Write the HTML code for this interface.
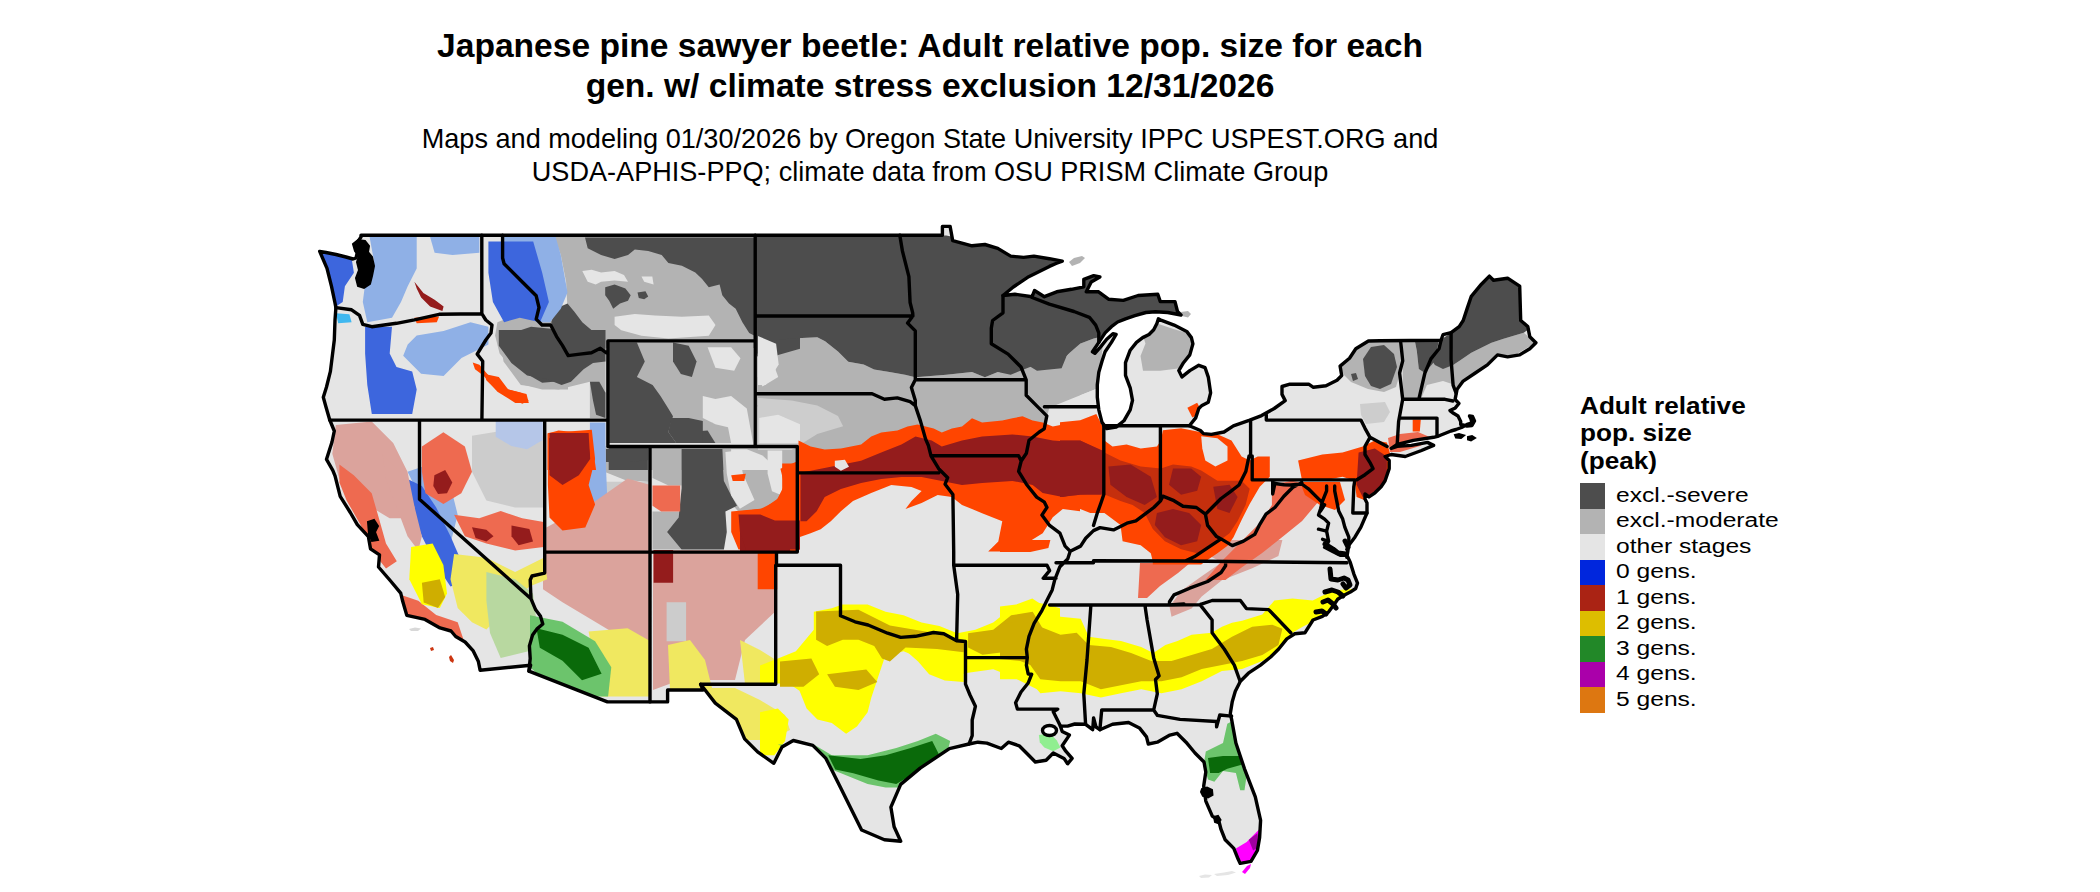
<!DOCTYPE html>
<html><head><meta charset="utf-8"><style>
html,body{margin:0;padding:0;background:#fff;}
body{width:2100px;height:892px;position:relative;overflow:hidden;font-family:"Liberation Sans",sans-serif;color:#000;}
.t{position:absolute;left:0;width:1860px;text-align:center;white-space:nowrap;}
.t1{font-weight:bold;font-size:33.6px;line-height:40px;top:26.3px;}
.t2{font-size:27.1px;line-height:33px;top:121.9px;}
#map{position:absolute;left:0;top:0;}
.lh{position:absolute;left:1580px;top:391.9px;font-weight:bold;font-size:24px;line-height:27.4px;transform:scaleX(1.09);transform-origin:0 0;}
.sw{position:absolute;left:1580px;width:25px;height:25.6px;}
.lt{position:absolute;left:1616px;font-size:20px;line-height:25.53px;transform:scaleX(1.23);transform-origin:0 0;white-space:nowrap;}
</style></head><body>
<div class="t t1">Japanese pine sawyer beetle: Adult relative pop. size for each<br>gen. w/ climate stress exclusion 12/31/2026</div>
<div class="t t2">Maps and modeling 01/30/2026 by Oregon State University IPPC USPEST.ORG and<br>USDA-APHIS-PPQ; climate data from OSU PRISM Climate Group</div>
<svg id="map" width="2100" height="892" viewBox="0 0 2100 892"><defs><clipPath id="us"><path d="M319.7,251.4 L326.0,252.5 L336.0,254.5 L346.0,257.0 L353.0,259.0 L356.0,258.0 L358.0,250.0 L357.0,243.0 L361.0,237.0 L361.0,235.2 L942.4,235.2 L942.4,226.4 L950.1,226.4 L952.7,240.6 L972.0,245.8 L984.9,244.5 L997.8,248.4 L1010.7,256.1 L1023.6,257.4 L1033.9,256.1 L1049.4,258.7 L1062.3,261.2 L1056.0,263.5 L1049.4,266.4 L1028.7,276.7 L1013.3,287.0 L1003.0,295.5 L1008.0,295.0 L1014.8,294.2 L1032.1,296.7 L1034.5,290.5 L1044.4,296.7 L1056.7,291.8 L1071.5,289.3 L1083.8,286.8 L1083.8,279.4 L1093.7,275.7 L1099.9,277.0 L1091.2,281.9 L1086.3,291.8 L1098.6,291.8 L1108.5,299.2 L1123.3,300.4 L1138.1,295.5 L1157.8,294.2 L1160.3,301.6 L1175.0,301.6 L1177.5,311.5 L1181.0,315.0 L1167.8,312.5 L1155.3,311.8 L1145.9,312.5 L1134.9,315.7 L1125.5,318.8 L1117.6,322.0 L1111.4,326.7 L1105.1,332.9 L1098.8,342.4 L1092.5,351.8 L1094.9,353.3 L1100.4,347.1 L1106.7,339.2 L1112.9,333.7 L1116.1,334.5 L1111.4,342.4 L1105.1,351.8 L1102.0,361.2 L1098.8,372.2 L1097.3,384.7 L1097.3,397.3 L1098.8,409.8 L1102.0,422.4 L1106.7,428.6 L1116.1,427.1 L1123.9,420.8 L1130.2,409.8 L1132.5,400.4 L1130.2,387.8 L1125.5,375.3 L1125.5,362.7 L1130.2,350.2 L1136.5,342.4 L1142.7,337.6 L1149.0,334.5 L1153.7,329.8 L1156.9,323.5 L1158.4,318.8 L1161.6,320.4 L1174.1,325.1 L1186.7,331.4 L1191.4,337.6 L1192.9,343.9 L1189.8,354.9 L1183.5,362.7 L1178.8,370.6 L1182.0,376.9 L1189.8,370.6 L1198.8,365.3 L1205.1,367.7 L1208.3,377.1 L1210.6,392.8 L1208.3,402.2 L1202.0,405.4 L1198.8,408.5 L1195.7,417.9 L1189.4,425.8 L1200.4,430.5 L1203.5,433.6 L1211.4,434.4 L1224.0,432.0 L1233.4,425.8 L1249.1,420.3 L1261.6,415.6 L1274.2,408.5 L1285.2,400.6 L1282.0,394.4 L1282.0,386.5 L1289.9,384.2 L1308.7,384.2 L1313.4,387.3 L1326.0,385.7 L1337.0,380.2 L1341.7,375.5 L1340.1,366.1 L1349.5,358.3 L1355.8,348.8 L1368.4,341.0 L1380.0,340.8 L1441.0,340.3 L1443.0,334.7 L1451.1,332.7 L1459.2,326.6 L1463.2,320.5 L1467.2,308.4 L1471.3,296.3 L1481.4,284.2 L1489.4,276.1 L1493.5,280.2 L1507.6,278.2 L1519.7,286.2 L1520.7,320.5 L1527.8,326.6 L1529.8,336.7 L1535.9,342.7 L1529.8,348.8 L1519.7,354.9 L1507.6,356.9 L1497.5,354.9 L1487.4,364.9 L1475.3,373.0 L1463.2,381.1 L1457.1,389.2 L1455.1,399.3 L1458.9,403.5 L1455.3,407.9 L1450.0,410.6 L1453.5,413.3 L1458.0,416.0 L1460.7,421.4 L1460.7,424.5 L1467.0,426.0 L1472.0,425.5 L1474.5,421.0 L1472.5,416.5 L1469.5,416.0 L1471.0,419.0 L1472.0,423.0 L1467.0,424.4 L1461.5,427.5 L1456.0,429.5 L1450.9,431.0 L1446.0,433.0 L1441.0,435.0 L1437.6,436.3 L1433.6,437.3 L1413.4,440.4 L1397.2,444.4 L1391.2,448.4 L1397.2,446.4 L1411.4,445.4 L1427.5,442.4 L1433.6,445.4 L1421.5,450.5 L1405.3,456.5 L1391.2,454.5 L1385.1,456.5 L1389.2,460.5 L1389.2,468.6 L1385.1,480.7 L1381.1,486.8 L1375.0,492.8 L1369.0,496.9 L1365.0,494.0 L1365.0,498.9 L1367.0,502.9 L1367.0,513.0 L1360.9,527.1 L1354.9,537.2 L1348.8,545.3 L1346.8,557.4 L1347.3,556.0 L1350.3,562.4 L1353.9,574.1 L1357.5,583.1 L1355.7,588.5 L1350.3,592.1 L1343.1,595.7 L1337.7,599.2 L1334.1,604.6 L1328.7,611.8 L1322.4,616.3 L1313.0,620.0 L1304.9,632.8 L1294.8,633.8 L1286.8,638.9 L1278.7,649.0 L1270.6,657.0 L1260.5,665.1 L1248.4,673.2 L1240.4,681.2 L1235.3,691.3 L1232.3,701.4 L1230.3,713.5 L1231.6,719.4 L1235.9,743.0 L1244.5,768.8 L1255.3,796.8 L1260.6,820.4 L1259.6,837.6 L1257.4,850.5 L1251.0,861.3 L1240.2,863.4 L1238.1,859.1 L1233.8,848.4 L1225.2,839.8 L1220.9,829.0 L1218.7,820.4 L1212.3,816.1 L1205.8,801.1 L1203.7,786.0 L1205.8,772.0 L1204.0,762.0 L1195.0,753.0 L1186.0,742.2 L1177.0,733.3 L1169.9,735.1 L1157.3,742.2 L1148.3,744.0 L1146.5,736.9 L1139.4,727.9 L1128.6,722.5 L1112.5,724.3 L1099.9,729.7 L1096.0,727.0 L1093.6,718.0 L1092.7,729.7 L1085.6,724.3 L1074.8,724.0 L1067.6,726.1 L1060.4,726.1 L1062.2,731.5 L1069.4,735.1 L1062.2,745.8 L1065.8,751.2 L1072.1,758.4 L1067.6,763.8 L1064.0,758.4 L1053.3,753.0 L1046.1,760.2 L1035.3,762.0 L1028.2,754.8 L1019.2,745.8 L1008.4,742.2 L1001.3,748.5 L986.9,743.1 L977.9,742.2 L969.0,744.0 L949.4,748.6 L920.2,768.1 L900.7,784.4 L890.9,807.2 L894.1,826.7 L900.7,841.3 L884.4,839.7 L861.6,830.0 L851.9,810.4 L840.5,787.6 L825.9,758.4 L812.8,745.4 L793.3,740.5 L782.0,747.0 L773.8,763.3 L757.6,751.9 L744.6,738.9 L736.4,719.3 L715.3,703.1 L700.6,684.3 L703.1,690.0 L667.6,690.0 L667.6,701.9 L607.4,701.9 L528.9,671.2 L530.6,665.2 L480.1,670.2 L478.4,661.6 L473.0,650.6 L465.1,642.0 L455.7,636.5 L451.0,631.0 L440.0,627.9 L425.0,619.4 L406.8,615.4 L402.7,601.3 L400.7,593.2 L390.6,581.0 L378.5,567.0 L379.5,554.9 L370.5,548.8 L368.4,536.7 L357.3,524.6 L350.3,512.5 L340.2,496.3 L335.1,476.1 L332.8,470.3 L326.5,459.3 L332.0,442.0 L334.3,431.0 L329.6,419.5 L325.7,406.0 L323.3,397.3 L326.5,387.0 L330.4,371.4 L334.3,340.0 L335.0,320.0 L335.9,307.6 L334.8,302.0 L331.5,286.3 L327.0,268.4Z"/></clipPath></defs><path d="M319.7,251.4 L326.0,252.5 L336.0,254.5 L346.0,257.0 L353.0,259.0 L356.0,258.0 L358.0,250.0 L357.0,243.0 L361.0,237.0 L361.0,235.2 L942.4,235.2 L942.4,226.4 L950.1,226.4 L952.7,240.6 L972.0,245.8 L984.9,244.5 L997.8,248.4 L1010.7,256.1 L1023.6,257.4 L1033.9,256.1 L1049.4,258.7 L1062.3,261.2 L1056.0,263.5 L1049.4,266.4 L1028.7,276.7 L1013.3,287.0 L1003.0,295.5 L1008.0,295.0 L1014.8,294.2 L1032.1,296.7 L1034.5,290.5 L1044.4,296.7 L1056.7,291.8 L1071.5,289.3 L1083.8,286.8 L1083.8,279.4 L1093.7,275.7 L1099.9,277.0 L1091.2,281.9 L1086.3,291.8 L1098.6,291.8 L1108.5,299.2 L1123.3,300.4 L1138.1,295.5 L1157.8,294.2 L1160.3,301.6 L1175.0,301.6 L1177.5,311.5 L1181.0,315.0 L1167.8,312.5 L1155.3,311.8 L1145.9,312.5 L1134.9,315.7 L1125.5,318.8 L1117.6,322.0 L1111.4,326.7 L1105.1,332.9 L1098.8,342.4 L1092.5,351.8 L1094.9,353.3 L1100.4,347.1 L1106.7,339.2 L1112.9,333.7 L1116.1,334.5 L1111.4,342.4 L1105.1,351.8 L1102.0,361.2 L1098.8,372.2 L1097.3,384.7 L1097.3,397.3 L1098.8,409.8 L1102.0,422.4 L1106.7,428.6 L1116.1,427.1 L1123.9,420.8 L1130.2,409.8 L1132.5,400.4 L1130.2,387.8 L1125.5,375.3 L1125.5,362.7 L1130.2,350.2 L1136.5,342.4 L1142.7,337.6 L1149.0,334.5 L1153.7,329.8 L1156.9,323.5 L1158.4,318.8 L1161.6,320.4 L1174.1,325.1 L1186.7,331.4 L1191.4,337.6 L1192.9,343.9 L1189.8,354.9 L1183.5,362.7 L1178.8,370.6 L1182.0,376.9 L1189.8,370.6 L1198.8,365.3 L1205.1,367.7 L1208.3,377.1 L1210.6,392.8 L1208.3,402.2 L1202.0,405.4 L1198.8,408.5 L1195.7,417.9 L1189.4,425.8 L1200.4,430.5 L1203.5,433.6 L1211.4,434.4 L1224.0,432.0 L1233.4,425.8 L1249.1,420.3 L1261.6,415.6 L1274.2,408.5 L1285.2,400.6 L1282.0,394.4 L1282.0,386.5 L1289.9,384.2 L1308.7,384.2 L1313.4,387.3 L1326.0,385.7 L1337.0,380.2 L1341.7,375.5 L1340.1,366.1 L1349.5,358.3 L1355.8,348.8 L1368.4,341.0 L1380.0,340.8 L1441.0,340.3 L1443.0,334.7 L1451.1,332.7 L1459.2,326.6 L1463.2,320.5 L1467.2,308.4 L1471.3,296.3 L1481.4,284.2 L1489.4,276.1 L1493.5,280.2 L1507.6,278.2 L1519.7,286.2 L1520.7,320.5 L1527.8,326.6 L1529.8,336.7 L1535.9,342.7 L1529.8,348.8 L1519.7,354.9 L1507.6,356.9 L1497.5,354.9 L1487.4,364.9 L1475.3,373.0 L1463.2,381.1 L1457.1,389.2 L1455.1,399.3 L1458.9,403.5 L1455.3,407.9 L1450.0,410.6 L1453.5,413.3 L1458.0,416.0 L1460.7,421.4 L1460.7,424.5 L1467.0,426.0 L1472.0,425.5 L1474.5,421.0 L1472.5,416.5 L1469.5,416.0 L1471.0,419.0 L1472.0,423.0 L1467.0,424.4 L1461.5,427.5 L1456.0,429.5 L1450.9,431.0 L1446.0,433.0 L1441.0,435.0 L1437.6,436.3 L1433.6,437.3 L1413.4,440.4 L1397.2,444.4 L1391.2,448.4 L1397.2,446.4 L1411.4,445.4 L1427.5,442.4 L1433.6,445.4 L1421.5,450.5 L1405.3,456.5 L1391.2,454.5 L1385.1,456.5 L1389.2,460.5 L1389.2,468.6 L1385.1,480.7 L1381.1,486.8 L1375.0,492.8 L1369.0,496.9 L1365.0,494.0 L1365.0,498.9 L1367.0,502.9 L1367.0,513.0 L1360.9,527.1 L1354.9,537.2 L1348.8,545.3 L1346.8,557.4 L1347.3,556.0 L1350.3,562.4 L1353.9,574.1 L1357.5,583.1 L1355.7,588.5 L1350.3,592.1 L1343.1,595.7 L1337.7,599.2 L1334.1,604.6 L1328.7,611.8 L1322.4,616.3 L1313.0,620.0 L1304.9,632.8 L1294.8,633.8 L1286.8,638.9 L1278.7,649.0 L1270.6,657.0 L1260.5,665.1 L1248.4,673.2 L1240.4,681.2 L1235.3,691.3 L1232.3,701.4 L1230.3,713.5 L1231.6,719.4 L1235.9,743.0 L1244.5,768.8 L1255.3,796.8 L1260.6,820.4 L1259.6,837.6 L1257.4,850.5 L1251.0,861.3 L1240.2,863.4 L1238.1,859.1 L1233.8,848.4 L1225.2,839.8 L1220.9,829.0 L1218.7,820.4 L1212.3,816.1 L1205.8,801.1 L1203.7,786.0 L1205.8,772.0 L1204.0,762.0 L1195.0,753.0 L1186.0,742.2 L1177.0,733.3 L1169.9,735.1 L1157.3,742.2 L1148.3,744.0 L1146.5,736.9 L1139.4,727.9 L1128.6,722.5 L1112.5,724.3 L1099.9,729.7 L1096.0,727.0 L1093.6,718.0 L1092.7,729.7 L1085.6,724.3 L1074.8,724.0 L1067.6,726.1 L1060.4,726.1 L1062.2,731.5 L1069.4,735.1 L1062.2,745.8 L1065.8,751.2 L1072.1,758.4 L1067.6,763.8 L1064.0,758.4 L1053.3,753.0 L1046.1,760.2 L1035.3,762.0 L1028.2,754.8 L1019.2,745.8 L1008.4,742.2 L1001.3,748.5 L986.9,743.1 L977.9,742.2 L969.0,744.0 L949.4,748.6 L920.2,768.1 L900.7,784.4 L890.9,807.2 L894.1,826.7 L900.7,841.3 L884.4,839.7 L861.6,830.0 L851.9,810.4 L840.5,787.6 L825.9,758.4 L812.8,745.4 L793.3,740.5 L782.0,747.0 L773.8,763.3 L757.6,751.9 L744.6,738.9 L736.4,719.3 L715.3,703.1 L700.6,684.3 L703.1,690.0 L667.6,690.0 L667.6,701.9 L607.4,701.9 L528.9,671.2 L530.6,665.2 L480.1,670.2 L478.4,661.6 L473.0,650.6 L465.1,642.0 L455.7,636.5 L451.0,631.0 L440.0,627.9 L425.0,619.4 L406.8,615.4 L402.7,601.3 L400.7,593.2 L390.6,581.0 L378.5,567.0 L379.5,554.9 L370.5,548.8 L368.4,536.7 L357.3,524.6 L350.3,512.5 L340.2,496.3 L335.1,476.1 L332.8,470.3 L326.5,459.3 L332.0,442.0 L334.3,431.0 L329.6,419.5 L325.7,406.0 L323.3,397.3 L326.5,387.0 L330.4,371.4 L334.3,340.0 L335.0,320.0 L335.9,307.6 L334.8,302.0 L331.5,286.3 L327.0,268.4Z" fill="#e5e5e5"/><g clip-path="url(#us)"><path d="M651.0,447.5 L800.0,447.5 L800.0,551.0 L651.0,551.0Z" fill="#e5e5e5"/><path d="M497.4,322.2 L519.8,313.2 L542.2,317.7 L568.0,322.2 L568.0,389.4 L542.2,389.4 L524.3,385.0 L510.8,367.0 L499.6,353.6 L495.1,335.6Z" fill="#b3b3b3"/><path d="M554.0,236.1 L754.6,236.1 L754.6,348.1 L555.4,348.1 L560.8,330.3 L567.5,308.8 L566.1,281.8 L560.8,254.9Z" fill="#b3b3b3"/><path d="M498.8,330.0 L605.5,330.0 L605.5,417.9 L589.9,417.9 L589.9,381.8 L558.5,389.6 L520.8,384.9 L503.5,361.4Z" fill="#b3b3b3"/><path d="M608.7,342.6 L753.1,342.6 L753.1,443.0 L608.7,443.0Z" fill="#b3b3b3"/><path d="M756.2,330.0 L800.0,330.0 L800.0,443.0 L756.2,443.0Z" fill="#b3b3b3"/><path d="M605.5,446.1 L800.0,446.1 L800.0,470.0 L605.5,470.0Z" fill="#b3b3b3"/><path d="M503.5,449.3 L542.8,443.0 L544.3,470.0 L503.5,470.0Z" fill="#b3b3b3"/><path d="M755.5,333.4 L765.8,341.2 L791.6,338.6 L817.3,337.3 L825.1,341.2 L838.0,351.5 L848.3,361.8 L863.7,364.4 L874.1,369.5 L889.5,372.1 L905.0,374.7 L915.3,377.3 L946.2,374.7 L972.0,372.1 L984.9,377.3 L997.8,372.1 L1010.7,374.7 L1023.6,369.5 L1036.5,364.4 L1062.2,359.2 L1080.0,348.9 L1080.0,450.0 L755.5,450.0Z" fill="#b3b3b3"/><path d="M974.6,336.0 L990.1,336.0 L991.4,346.3 L975.9,346.3Z" fill="#b3b3b3"/><path d="M1128.2,306.6 L1157.8,301.6 L1177.5,311.5 L1187.4,314.0 L1177.5,316.4 L1147.9,314.0 L1128.2,314.0Z" fill="#b3b3b3"/><path d="M1000.0,353.4 L1024.7,363.3 L1037.0,370.7 L1061.6,368.2 L1066.6,355.9 L1074.0,346.0 L1093.7,338.6 L1103.6,336.2 L1098.6,387.9 L1074.0,397.8 L1049.3,407.7 L1044.4,412.6 L1000.0,412.6Z" fill="#b3b3b3"/><path d="M1140.5,328.8 L1157.8,323.8 L1172.6,328.8 L1189.8,333.7 L1192.3,343.6 L1187.4,358.3 L1180.0,368.2 L1160.3,370.7 L1143.0,370.7 L1140.5,355.9 L1145.5,343.6Z" fill="#b3b3b3"/><path d="M1453.1,364.9 L1459.2,360.9 L1471.3,352.8 L1483.4,346.8 L1491.5,342.7 L1503.6,338.7 L1523.7,332.7 L1535.9,342.7 L1511.6,356.9 L1491.5,364.9 L1471.3,377.1 L1459.2,385.1 L1453.1,389.2Z" fill="#b3b3b3"/><path d="M1418.8,399.3 L1424.9,373.0 L1434.9,360.9 L1441.0,339.7 L1453.1,336.7 L1455.1,381.1 L1451.1,399.3Z" fill="#b3b3b3"/><path d="M1402.7,340.7 L1414.8,340.7 L1416.8,350.8 L1418.8,369.0 L1424.9,373.0 L1420.8,399.3 L1402.7,399.3Z" fill="#b3b3b3"/><path d="M1339.0,364.0 L1351.0,354.0 L1368.0,342.0 L1400.0,342.0 L1401.0,370.0 L1396.0,387.0 L1384.0,392.0 L1368.0,389.0 L1351.0,382.0 L1344.0,375.0Z" fill="#b3b3b3"/><path d="M438.0,538.0 L450.5,543.4 L457.7,564.9 L454.1,572.0 L443.4,561.3Z" fill="#b3b3b3"/><path d="M600.0,448.0 L650.0,448.0 L650.0,482.0 L625.0,480.0 L600.0,470.0Z" fill="#b3b3b3"/><path d="M652.5,449.0 L681.6,449.0 L681.6,485.4 L668.5,485.4 L652.5,478.1Z" fill="#b3b3b3"/><path d="M652.5,511.6 L681.6,511.6 L681.6,549.5 L652.5,549.5Z" fill="#b3b3b3"/><path d="M723.9,449.0 L782.2,449.0 L782.2,510.2 L760.3,517.5 L738.5,511.6 L723.9,495.6Z" fill="#b3b3b3"/><path d="M510.8,333.4 L531.0,326.7 L553.4,328.9 L568.0,333.4 L568.0,380.5 L542.2,382.7 L526.5,373.7 L515.3,362.5 L508.6,349.1Z" fill="#4d4d4d"/><path d="M585.0,237.4 L587.7,248.2 L601.1,254.9 L614.6,259.0 L628.0,254.9 L634.8,249.5 L648.2,250.9 L661.7,254.9 L668.4,263.0 L681.9,265.7 L695.3,272.4 L702.1,279.1 L708.8,287.2 L719.6,284.5 L722.3,295.3 L729.0,303.4 L735.7,308.8 L742.4,322.2 L749.2,333.0 L754.6,335.7 L754.6,237.4Z" fill="#4d4d4d"/><path d="M605.2,287.2 L614.6,284.5 L625.4,288.6 L630.7,295.3 L628.0,300.7 L620.0,303.4 L613.2,308.8 L609.2,300.7 L605.2,295.3Z" fill="#4d4d4d"/><path d="M637.5,292.6 L645.5,291.3 L648.2,296.6 L644.2,299.3 L638.8,298.0Z" fill="#4d4d4d"/><path d="M555.4,308.8 L567.5,303.4 L574.2,311.4 L582.3,322.2 L591.7,330.3 L598.4,341.1 L601.1,348.1 L560.8,348.1 L555.4,335.7 L551.3,322.2Z" fill="#4d4d4d"/><path d="M498.8,330.0 L605.5,330.0 L605.5,361.4 L593.0,363.0 L583.6,369.2 L571.0,381.8 L561.6,384.9 L545.9,378.7 L527.1,375.5 L511.4,363.0 L498.8,345.7Z" fill="#4d4d4d"/><path d="M589.9,381.8 L599.3,381.8 L605.5,392.8 L605.5,417.9 L596.1,414.7 L593.0,400.6Z" fill="#4d4d4d"/><path d="M608.7,342.6 L636.9,342.6 L644.8,361.4 L636.9,377.1 L652.6,384.9 L660.5,395.9 L668.3,408.5 L673.0,416.3 L668.3,432.0 L676.2,443.0 L608.7,443.0Z" fill="#4d4d4d"/><path d="M673.0,342.6 L688.7,345.7 L696.6,361.4 L691.9,377.1 L680.9,373.9 L673.0,361.4Z" fill="#4d4d4d"/><path d="M706.0,408.5 L715.4,403.8 L723.3,411.6 L721.7,421.0 L712.3,422.6 L706.0,416.3Z" fill="#4d4d4d"/><path d="M688.7,432.0 L707.6,430.4 L715.4,443.0 L688.7,443.0Z" fill="#4d4d4d"/><path d="M671.5,417.9 L688.7,417.9 L702.8,421.0 L702.8,443.0 L676.2,443.0 L668.3,432.0Z" fill="#4d4d4d"/><path d="M756.2,330.0 L800.0,330.0 L800.0,348.8 L778.2,355.1 L762.5,361.4 L756.2,355.1Z" fill="#4d4d4d"/><path d="M757.8,405.3 L764.1,405.3 L764.8,413.2 L758.6,413.2Z" fill="#4d4d4d"/><path d="M608.7,446.1 L647.9,446.1 L647.9,470.0 L608.7,470.0Z" fill="#4d4d4d"/><path d="M755.5,235.5 L946.2,235.5 L1062.2,258.7 L1080.0,284.4 L1080.0,343.7 L1062.2,359.2 L1036.5,364.4 L1023.6,369.5 L1010.7,374.7 L997.8,372.1 L984.9,377.3 L972.0,372.1 L946.2,374.7 L915.3,377.3 L905.0,374.7 L889.5,372.1 L874.1,369.5 L863.7,364.4 L848.3,361.8 L838.0,351.5 L825.1,341.2 L817.3,337.3 L791.6,338.6 L765.8,341.2 L755.5,333.4Z" fill="#4d4d4d"/><path d="M1000.0,249.9 L1061.6,259.7 L1098.6,277.0 L1157.8,294.2 L1177.5,301.6 L1182.4,314.0 L1160.3,314.0 L1133.1,316.4 L1118.3,323.8 L1103.6,336.2 L1093.7,338.6 L1074.0,346.0 L1066.6,355.9 L1061.6,368.2 L1037.0,370.7 L1024.7,363.3 L1000.0,353.4Z" fill="#4d4d4d"/><path d="M1451.1,332.7 L1459.2,326.6 L1471.3,296.3 L1489.4,276.1 L1507.6,278.2 L1519.7,286.2 L1520.7,320.5 L1529.8,328.6 L1523.7,332.7 L1503.6,338.7 L1491.5,342.7 L1483.4,346.8 L1471.3,352.8 L1459.2,360.9 L1453.1,364.9Z" fill="#4d4d4d"/><path d="M1441.0,339.7 L1451.1,332.7 L1453.1,364.9 L1443.0,369.0 L1434.9,364.9 L1430.9,358.9 L1439.0,348.8Z" fill="#4d4d4d"/><path d="M1414.8,340.7 L1439.0,339.7 L1434.9,360.9 L1424.9,373.0 L1418.8,369.0 L1416.8,350.8Z" fill="#4d4d4d"/><path d="M1363.0,359.0 L1371.0,347.0 L1384.0,345.0 L1394.0,354.0 L1397.0,367.0 L1391.0,384.0 L1380.0,389.0 L1371.0,386.0 L1365.0,376.0Z" fill="#4d4d4d"/><path d="M1351.0,374.0 L1356.0,373.0 L1358.0,379.0 L1353.0,381.0Z" fill="#4d4d4d"/><path d="M606.0,449.0 L648.0,449.0 L648.0,460.0 L630.0,462.0 L606.0,462.0Z" fill="#4d4d4d"/><path d="M681.6,449.0 L722.4,449.0 L723.9,481.0 L731.2,495.6 L737.0,505.8 L725.4,511.6 L726.8,532.0 L723.9,549.5 L681.6,549.5 L667.1,532.0 L678.7,517.5 L681.6,488.3Z" fill="#4d4d4d"/><path d="M472.0,435.8 L515.1,428.7 L543.7,435.8 L543.7,507.5 L515.1,507.5 L486.4,500.4 L472.0,471.7Z" fill="#cccccc"/><path d="M595.1,481.8 L650.4,481.8 L650.4,527.4 L627.6,517.6 L604.8,491.6Z" fill="#cccccc"/><path d="M758.0,397.9 L791.6,400.5 L817.3,405.6 L838.0,415.9 L843.1,426.2 L817.3,434.0 L791.6,450.0 L758.0,450.0Z" fill="#cdcdcd"/><path d="M1360.0,404.0 L1385.0,402.0 L1390.0,412.0 L1384.0,422.0 L1366.0,424.0 L1361.0,415.0Z" fill="#cdcdcd"/><path d="M582.3,271.1 L591.7,269.7 L601.1,272.4 L614.6,271.1 L624.0,275.1 L628.0,281.8 L614.6,280.5 L601.1,281.8 L595.7,284.5 L587.7,281.8Z" fill="#e5e5e5"/><path d="M614.6,316.8 L634.8,314.1 L655.0,315.5 L681.9,316.8 L708.8,315.5 L715.5,324.9 L708.8,335.7 L668.4,338.4 L641.5,335.7 L621.3,330.3 L614.6,324.9Z" fill="#e5e5e5"/><path d="M641.5,276.5 L652.3,276.5 L653.6,284.5 L644.2,281.8Z" fill="#e5e5e5"/><path d="M702.8,395.9 L715.4,399.1 L731.1,395.9 L746.8,408.5 L753.1,443.0 L731.1,443.0 L728.0,427.3 L715.4,424.2 L702.8,417.9Z" fill="#e5e5e5"/><path d="M707.6,347.3 L731.1,347.3 L740.5,358.2 L734.2,370.8 L715.4,367.7Z" fill="#e5e5e5"/><path d="M757.8,353.5 L770.3,355.1 L778.2,377.1 L762.5,386.5 L757.8,377.1Z" fill="#e5e5e5"/><path d="M759.3,417.9 L778.2,414.7 L800.0,424.2 L800.0,443.0 L759.3,443.0Z" fill="#e5e5e5"/><path d="M731.1,449.3 L746.8,449.3 L762.5,455.5 L778.2,470.0 L731.1,470.0Z" fill="#e5e5e5"/><path d="M758.0,336.0 L776.1,343.7 L778.7,364.4 L765.8,385.0 L758.0,385.0Z" fill="#e5e5e5"/><path d="M1049.3,407.7 L1074.0,397.8 L1098.6,387.9 L1103.6,427.4 L1044.4,427.4Z" fill="#e5e5e5"/><path d="M1420.8,399.3 L1426.9,385.1 L1443.0,381.1 L1455.1,385.1 L1455.1,399.3Z" fill="#e5e5e5"/><path d="M725.4,451.9 L738.5,450.4 L742.9,473.7 L754.5,500.0 L739.9,508.7 L731.2,495.6 L726.8,473.7Z" fill="#e5e5e5"/><path d="M767.6,450.4 L782.2,450.4 L782.2,495.6 L772.0,491.2 L767.6,473.7Z" fill="#e5e5e5"/><path d="M495.7,421.0 L542.8,421.0 L542.8,439.9 L527.1,449.3 L511.4,446.1 L495.7,436.7Z" fill="#b5c6e8"/><path d="M369.6,237.0 L416.7,237.0 L416.7,268.4 L407.7,286.3 L401.0,302.0 L392.0,317.7 L367.3,322.2 L362.8,302.0 L365.1,284.1 L374.1,261.6Z" fill="#8fb0e6"/><path d="M430.1,237.0 L479.4,237.0 L479.4,252.7 L452.5,254.9 L434.6,252.7Z" fill="#8fb0e6"/><path d="M416.7,335.6 L443.6,331.1 L470.5,322.2 L488.4,326.7 L488.4,344.6 L461.5,358.0 L443.6,376.0 L421.1,373.7 L403.2,355.8 L407.7,344.6Z" fill="#8fb0e6"/><path d="M504.2,236.1 L555.4,236.1 L560.8,254.9 L567.5,292.6 L560.8,308.8 L550.0,322.2 L536.5,322.2 L537.9,303.4 L533.8,292.6 L504.2,261.6Z" fill="#8fb0e6"/><path d="M589.9,422.6 L605.5,422.6 L605.5,470.0 L593.0,470.0 L589.9,449.3Z" fill="#8fb0e6"/><path d="M1487.4,364.9 L1499.5,358.9 L1511.6,356.9 L1507.6,364.9 L1491.5,373.0Z" fill="#8fb0e6"/><path d="M407.5,471.7 L429.0,464.5 L450.5,486.0 L457.7,514.7 L450.5,543.4 L436.2,518.3 L418.3,493.2Z" fill="#8fb0e6"/><path d="M588.6,439.5 L604.8,439.5 L608.1,517.6 L595.1,533.9 L585.3,517.6Z" fill="#8fb0e6"/><path d="M686.1,556.6 L731.7,550.1 L731.7,592.4 L712.2,589.2 L692.7,582.7Z" fill="#8fb0e6"/><path d="M320.2,251.5 L351.6,258.3 L353.9,272.8 L344.9,286.3 L342.7,302.0 L335.9,306.5 L331.5,286.3 L324.7,263.9Z" fill="#3d66dd"/><path d="M365.1,326.7 L392.0,326.7 L389.7,353.6 L396.5,367.0 L412.2,371.5 L416.7,389.4 L412.2,414.1 L371.8,414.1 L367.3,385.0 L365.1,353.6Z" fill="#3d66dd"/><path d="M488.4,241.5 L533.2,241.5 L542.2,272.8 L548.9,302.0 L540.0,322.2 L519.8,317.7 L504.1,322.2 L492.9,302.0 L488.4,272.8Z" fill="#3d66dd"/><path d="M407.5,478.9 L421.9,486.0 L436.2,507.5 L450.5,536.2 L461.3,561.3 L461.3,582.8 L450.5,586.4 L436.2,564.9 L421.9,536.2 L411.1,507.5Z" fill="#3d66dd"/><path d="M335.9,313.2 L349.4,314.3 L351.6,322.2 L338.2,323.3Z" fill="#40b8f0"/><path d="M653.0,550.0 L777.0,550.0 L777.0,610.0 L745.0,640.0 L735.0,680.0 L680.0,680.0 L653.0,690.0Z" fill="#dba39c"/><path d="M666.6,602.2 L686.1,602.2 L686.1,641.2 L666.6,641.2Z" fill="#cccccc"/><path d="M335.8,425.1 L371.7,421.5 L393.2,443.0 L407.5,471.7 L414.7,507.5 L407.5,518.3 L389.6,518.3 L371.7,507.5 L353.8,489.6 L339.4,478.9 L332.3,453.8Z" fill="#dba39c"/><path d="M382.4,453.8 L400.4,471.7 L414.7,507.5 L421.9,536.2 L418.3,550.5 L407.5,536.2 L396.8,507.5 L386.0,478.9Z" fill="#dba39c"/><path d="M546.3,527.4 L595.1,501.3 L627.6,478.6 L650.4,485.1 L650.4,550.1 L546.3,550.1Z" fill="#dba39c"/><path d="M543.0,550.1 L650.4,550.1 L650.4,647.7 L627.6,641.2 L595.1,621.7 L562.5,602.2 L543.0,589.2Z" fill="#dba39c"/><path d="M1161.4,540.0 L1282.4,540.0 L1278.4,556.1 L1252.2,568.2 L1221.9,580.3 L1201.7,596.5 L1191.6,608.6 L1171.5,616.7 L1169.5,606.6 L1181.6,590.4 L1201.7,576.3 L1221.9,562.2 L1201.7,552.1Z" fill="#dba39c"/><path d="M1271.9,484.7 L1292.0,480.7 L1312.2,484.7 L1322.3,496.9 L1302.1,521.1 L1282.0,537.2 L1261.8,553.3 L1241.6,567.5 L1225.5,580.0 L1205.3,580.0 L1221.4,561.4 L1241.6,541.2 L1261.8,521.1 L1271.9,504.9Z" fill="#ee6a50"/><path d="M1388.0,438.0 L1400.0,434.0 L1418.0,432.0 L1432.0,438.0 L1420.0,446.0 L1400.0,452.0 L1390.0,452.0Z" fill="#ee6a50"/><path d="M339.4,464.5 L353.8,475.3 L371.7,493.2 L378.9,518.3 L386.0,543.4 L396.8,561.3 L386.0,568.5 L371.7,550.5 L360.9,525.4 L346.6,500.4 L339.4,482.4Z" fill="#ee6a50"/><path d="M396.8,593.5 L418.3,600.7 L436.2,615.1 L457.7,622.2 L464.9,643.7 L450.5,650.9 L429.0,636.6 L407.5,615.1Z" fill="#ee6a50"/><path d="M421.9,446.6 L443.4,432.3 L464.9,446.6 L472.0,471.7 L461.3,493.2 L443.4,503.9 L425.4,493.2 L421.9,471.7Z" fill="#ee6a50"/><path d="M454.1,514.7 L479.2,518.3 L500.7,511.1 L522.2,518.3 L543.7,521.9 L543.7,547.0 L515.1,550.5 L486.4,543.4 L464.9,536.2Z" fill="#ee6a50"/><path d="M1140.0,563.0 L1190.0,563.0 L1178.0,573.0 L1160.0,586.0 L1147.0,598.0 L1138.0,598.0Z" fill="#ee6a50"/><path d="M652.5,485.4 L680.2,485.4 L680.2,511.6 L661.2,511.6 L652.5,505.8Z" fill="#ee6a50"/><path d="M414.4,317.7 L439.1,316.6 L436.8,322.2 L416.7,323.3Z" fill="#ff4500"/><path d="M472.7,362.5 L479.4,364.8 L492.9,380.5 L508.6,389.4 L526.5,393.9 L528.8,402.9 L515.3,402.9 L497.4,391.7 L483.9,376.0 L475.0,369.3Z" fill="#ff4500"/><path d="M547.5,433.6 L558.5,430.4 L574.2,432.0 L589.9,436.7 L593.0,449.3 L596.1,470.0 L547.5,470.0Z" fill="#ff4500"/><path d="M484.7,373.9 L498.8,377.1 L508.2,389.6 L520.8,392.8 L528.7,400.6 L522.4,403.8 L508.2,397.5 L495.7,389.6 L486.3,380.2Z" fill="#ff4500"/><path d="M798.5,440.5 L810.6,446.6 L824.7,449.6 L840.9,448.6 L861.1,444.6 L871.2,436.5 L881.2,432.5 L897.4,430.4 L907.5,426.4 L917.6,424.4 L925.6,426.4 L933.7,428.4 L941.8,432.5 L951.9,428.4 L962.0,426.4 L972.0,418.3 L982.1,422.4 L1002.3,420.4 L1012.4,418.3 L1022.5,416.3 L1032.6,420.4 L1042.7,422.4 L1052.8,426.4 L1062.8,424.4 L1080.0,430.4 L1080.0,511.2 L1062.8,509.1 L1052.8,517.2 L1042.7,533.3 L1032.6,539.4 L1022.5,545.5 L1002.3,551.5 L988.2,551.5 L998.3,541.4 L1002.3,521.2 L992.2,517.2 L982.1,513.2 L972.0,509.1 L962.0,505.1 L951.9,497.0 L937.7,495.0 L921.6,503.1 L905.5,509.1 L911.5,501.1 L921.6,491.0 L911.5,486.9 L891.3,484.9 L871.2,493.0 L853.0,501.1 L840.9,511.2 L830.8,521.2 L820.7,529.3 L810.6,533.3 L798.5,537.4Z" fill="#ff4500"/><path d="M780.4,468.8 L798.5,460.7 L798.5,551.5 L740.0,551.5 L740.0,511.2 L760.2,509.1 L776.3,501.1 L784.4,484.9Z" fill="#ff4500"/><path d="M1060.0,422.2 L1080.2,420.2 L1096.3,414.1 L1102.4,426.2 L1104.4,440.4 L1112.5,446.4 L1126.6,444.4 L1140.7,448.4 L1156.9,446.4 L1160.9,440.4 L1162.9,430.3 L1181.1,428.2 L1201.2,432.3 L1217.4,434.3 L1231.5,440.4 L1241.6,456.5 L1249.7,460.5 L1257.7,456.5 L1269.8,456.5 L1269.8,476.7 L1259.8,486.8 L1249.7,503.9 L1241.6,520.1 L1233.5,537.2 L1227.5,545.7 L1217.4,553.3 L1205.3,561.4 L1201.2,564.4 L1152.8,564.4 L1152.8,561.4 L1150.8,553.3 L1140.7,545.3 L1122.6,541.2 L1120.5,525.1 L1104.4,513.0 L1090.3,513.0 L1080.2,509.0 L1060.0,509.0Z" fill="#ff4500"/><path d="M1298.1,460.5 L1322.3,454.5 L1342.5,452.5 L1362.7,446.4 L1374.8,440.4 L1386.9,442.4 L1390.9,456.5 L1386.9,480.7 L1374.8,496.9 L1366.7,500.9 L1356.6,496.9 L1354.6,480.7 L1342.5,476.7 L1322.3,480.7 L1302.1,480.7Z" fill="#ff4500"/><path d="M1187.4,407.7 L1197.2,402.7 L1202.2,412.6 L1192.3,417.5Z" fill="#ff4500"/><path d="M1412.7,419.4 L1420.8,419.4 L1419.8,431.5 L1412.7,431.5Z" fill="#ff4500"/><path d="M547.9,433.0 L591.8,429.8 L595.1,459.0 L588.6,485.1 L595.1,504.6 L585.3,527.4 L562.5,530.6 L549.5,517.6 L547.9,485.1Z" fill="#ff4500"/><path d="M757.7,550.1 L777.2,550.1 L777.2,589.2 L757.7,589.2Z" fill="#ff4500"/><path d="M1300.0,482.0 L1340.0,482.0 L1345.0,500.0 L1335.0,510.0 L1320.0,505.0 L1305.0,495.0Z" fill="#ff4500"/><path d="M1000.0,540.0 L1050.4,540.0 L1048.4,548.1 L1030.3,552.1 L1000.0,552.1Z" fill="#ff4500"/><path d="M782.2,463.5 L800.0,463.5 L800.0,510.2 L774.9,511.6 L767.6,505.8 L782.2,495.6Z" fill="#ff4500"/><path d="M731.2,511.6 L760.3,508.7 L782.2,510.2 L800.0,510.2 L800.0,549.5 L738.5,549.5 L731.2,532.0Z" fill="#ff4500"/><path d="M731.2,475.2 L745.8,473.7 L744.3,481.0 L732.7,481.0Z" fill="#ff4500"/><path d="M1060.0,440.4 L1080.2,440.4 L1100.4,450.4 L1120.5,460.5 L1140.7,466.6 L1160.9,468.6 L1173.0,464.6 L1191.2,466.6 L1201.2,470.6 L1217.4,480.7 L1241.6,480.7 L1249.7,488.8 L1245.6,504.9 L1237.6,521.1 L1229.5,533.2 L1221.4,539.2 L1209.3,545.3 L1197.2,553.3 L1181.1,549.3 L1164.9,541.2 L1152.8,529.1 L1144.7,513.0 L1132.6,504.9 L1120.5,500.9 L1100.4,492.8 L1080.2,494.8 L1060.0,496.9Z" fill="#c52f0d"/><path d="M414.4,281.8 L423.4,293.0 L434.6,299.7 L443.6,306.5 L442.4,311.0 L430.1,306.5 L421.1,297.5 L416.7,288.5Z" fill="#941c1c"/><path d="M549.1,438.3 L561.6,435.1 L577.3,436.7 L588.3,443.0 L589.9,455.5 L582.0,465.0 L574.2,455.5 L567.9,470.0 L549.1,470.0Z" fill="#941c1c"/><path d="M740.0,517.2 L760.2,521.2 L776.3,525.3 L786.4,533.3 L790.4,551.5 L740.0,551.5Z" fill="#941c1c"/><path d="M800.5,472.8 L830.8,466.8 L861.1,460.7 L881.2,452.6 L901.4,444.6 L915.5,436.5 L931.7,440.5 L941.8,446.6 L962.0,440.5 L982.1,436.5 L1012.4,434.5 L1032.6,436.5 L1052.8,440.5 L1080.0,442.6 L1080.0,493.0 L1062.8,497.0 L1042.7,493.0 L1032.6,484.9 L1012.4,480.9 L982.1,482.9 L962.0,484.9 L941.8,480.9 L921.6,476.9 L901.4,476.9 L881.2,478.9 L861.1,482.9 L840.9,489.0 L824.7,497.0 L816.7,511.2 L806.6,521.2 L800.5,521.2Z" fill="#941c1c"/><path d="M1060.0,440.4 L1080.2,440.4 L1102.4,450.4 L1102.4,494.8 L1080.2,494.8 L1060.0,496.9Z" fill="#941c1c"/><path d="M1108.4,466.6 L1130.6,464.6 L1150.8,476.7 L1156.9,496.9 L1144.7,504.9 L1126.6,496.9 L1110.4,484.7Z" fill="#941c1c"/><path d="M1173.0,468.6 L1191.2,468.6 L1201.2,476.7 L1197.2,490.8 L1181.1,494.8 L1169.0,484.7Z" fill="#941c1c"/><path d="M1156.9,513.0 L1173.0,509.0 L1189.1,513.0 L1201.2,525.1 L1197.2,541.2 L1181.1,545.3 L1164.9,537.2 L1154.8,525.1Z" fill="#941c1c"/><path d="M1213.3,486.8 L1229.5,484.7 L1237.6,496.9 L1229.5,513.0 L1217.4,509.0Z" fill="#941c1c"/><path d="M1358.6,452.5 L1374.8,448.4 L1386.9,456.5 L1386.9,476.7 L1374.8,492.8 L1362.7,496.9 L1356.6,484.7Z" fill="#941c1c"/><path d="M434.4,475.3 L445.2,469.9 L452.3,482.4 L447.0,493.2 L438.0,493.9 L433.3,486.0Z" fill="#941c1c"/><path d="M472.0,527.2 L486.4,529.7 L493.5,536.2 L486.4,541.6 L475.6,538.0Z" fill="#941c1c"/><path d="M511.5,525.4 L529.4,529.0 L533.0,541.6 L518.6,545.2 L511.5,536.2Z" fill="#941c1c"/><path d="M549.5,433.0 L588.6,433.0 L590.2,459.0 L578.8,475.3 L562.5,485.1 L549.5,475.3Z" fill="#941c1c"/><path d="M653.6,550.1 L673.1,550.1 L673.1,582.7 L653.6,582.7Z" fill="#941c1c"/><path d="M738.5,514.5 L760.3,514.5 L774.9,520.4 L800.0,520.4 L800.0,549.5 L745.8,549.5 L739.9,532.0Z" fill="#941c1c"/><path d="M834.8,460.7 L844.9,459.7 L849.0,466.8 L840.9,470.8 L834.8,466.8Z" fill="#e5e5e5"/><path d="M1201.2,436.3 L1217.4,438.3 L1227.5,446.4 L1227.5,460.5 L1215.4,466.6 L1205.3,460.5 L1202.3,448.4Z" fill="#e5e5e5"/><path d="M454.1,554.1 L486.4,557.7 L515.1,572.0 L543.7,557.7 L547.3,579.2 L529.4,586.4 L515.1,600.7 L500.7,615.1 L486.4,629.4 L472.0,622.2 L457.7,607.9 L450.5,579.2Z" fill="#f0e860"/><path d="M588.6,631.5 L627.6,628.2 L650.4,641.2 L650.4,696.5 L601.6,696.5 L595.1,667.2Z" fill="#f0e860"/><path d="M668.0,645.0 L690.0,640.0 L705.0,660.0 L712.0,688.0 L670.0,690.0Z" fill="#f0e860"/><path d="M740.0,640.0 L760.0,650.0 L776.0,660.0 L776.0,684.0 L745.0,684.0Z" fill="#f0e860"/><path d="M700.0,688.0 L735.0,688.0 L760.0,700.0 L785.0,715.0 L790.0,730.0 L770.0,740.0 L745.0,740.0 L720.0,720.0Z" fill="#f0e860"/><path d="M411.1,547.0 L432.6,543.4 L443.4,564.9 L447.0,593.5 L439.8,607.9 L421.9,604.3 L409.3,579.2Z" fill="#ffff00"/><path d="M760.0,665.6 L777.9,658.4 L795.9,651.2 L813.8,629.7 L813.8,611.8 L831.8,608.2 L842.5,604.6 L867.6,604.6 L885.6,611.8 L903.5,615.3 L921.5,622.5 L939.4,626.1 L957.3,633.3 L975.3,629.7 L993.2,622.5 L1011.2,608.2 L1029.1,601.0 L1047.0,604.6 L1060.0,608.2 L1060.0,690.7 L1039.9,690.7 L1025.5,683.5 L1011.2,676.3 L993.2,669.2 L968.1,672.8 L953.8,676.3 L939.4,669.2 L921.5,658.4 L903.5,651.2 L885.6,654.8 L878.4,676.3 L871.2,697.9 L867.6,712.2 L856.9,726.6 L846.1,733.8 L831.8,723.0 L817.4,719.4 L806.6,708.6 L799.5,690.7 L788.7,683.5 L774.4,683.5 L760.0,683.5Z" fill="#ffff00"/><path d="M760.0,712.2 L777.9,708.6 L788.7,719.4 L785.1,740.9 L774.4,755.3 L760.0,755.3Z" fill="#ffff00"/><path d="M1000.0,606.6 L1016.1,604.6 L1032.3,598.5 L1044.4,606.6 L1060.5,616.7 L1080.7,618.7 L1088.8,636.8 L1104.9,638.9 L1121.0,640.9 L1141.2,646.9 L1153.3,653.0 L1165.4,644.9 L1177.5,640.9 L1191.6,634.8 L1211.8,632.8 L1221.9,626.7 L1232.0,622.7 L1242.1,620.7 L1262.3,614.6 L1274.4,600.5 L1292.5,598.5 L1312.7,600.5 L1332.9,590.4 L1357.1,588.4 L1357.1,598.5 L1342.9,608.6 L1322.8,616.7 L1302.6,626.7 L1292.5,632.8 L1282.4,644.9 L1272.3,655.0 L1262.3,661.0 L1242.1,669.1 L1221.9,671.1 L1201.7,681.2 L1181.6,689.3 L1161.4,693.3 L1141.2,689.3 L1121.0,693.3 L1100.9,697.4 L1080.7,693.3 L1060.5,691.3 L1040.3,693.3 L1030.3,681.2 L1020.2,679.2 L1000.0,679.2Z" fill="#ffff00"/><path d="M889.9,653.8 L905.6,650.6 L918.1,661.6 L929.1,674.2 L944.8,680.5 L963.7,682.0 L963.7,652.2 L937.0,649.1 L905.6,647.5Z" fill="#ffff00"/><path d="M421.9,582.8 L439.8,579.2 L445.2,597.1 L438.0,607.9 L423.7,602.5Z" fill="#cfae00"/><path d="M968.1,633.3 L993.2,629.7 L1011.2,615.3 L1032.7,611.8 L1043.5,629.7 L1032.7,647.6 L1011.2,651.2 L982.5,654.8 L968.1,647.6Z" fill="#cfae00"/><path d="M1000.0,624.7 L1020.2,620.7 L1040.3,626.7 L1060.5,634.8 L1076.7,632.8 L1088.8,644.9 L1111.0,646.9 L1131.1,653.0 L1151.3,661.0 L1171.5,661.0 L1191.6,655.0 L1211.8,648.9 L1232.0,636.8 L1252.2,626.7 L1272.3,624.7 L1282.4,628.8 L1278.4,644.9 L1262.3,655.0 L1242.1,661.0 L1221.9,665.1 L1201.7,669.1 L1181.6,677.2 L1161.4,681.2 L1141.2,681.2 L1121.0,685.2 L1100.9,689.3 L1080.7,681.2 L1060.5,681.2 L1040.3,679.2 L1030.3,665.1 L1020.2,661.0 L1000.0,659.0Z" fill="#cfae00"/><path d="M816.1,611.4 L858.5,609.8 L889.9,625.5 L937.0,633.4 L963.7,639.7 L963.7,652.2 L937.0,649.1 L905.6,647.5 L889.9,661.6 L882.0,658.5 L874.2,645.9 L858.5,639.7 L842.8,639.7 L827.1,645.9 L816.1,639.7Z" fill="#cfae00"/><path d="M780.0,661.6 L811.4,658.5 L819.2,674.2 L803.5,686.8 L780.0,686.8Z" fill="#cfae00"/><path d="M827.1,674.2 L866.3,669.5 L877.3,682.0 L858.5,689.9 L834.9,686.8Z" fill="#cfae00"/><path d="M486.4,572.0 L515.1,579.2 L533.0,593.5 L536.6,622.2 L529.4,650.9 L500.7,658.1 L490.0,633.0 L486.4,600.7Z" fill="#b8d8a0"/><path d="M530.0,615.2 L562.5,621.7 L595.1,641.2 L611.3,667.2 L608.1,696.5 L562.5,696.5 L530.0,667.2Z" fill="#6cc46c"/><path d="M777.9,744.5 L813.8,744.5 L831.8,755.3 L867.6,755.3 L896.3,748.1 L917.9,740.9 L935.8,733.8 L950.2,740.9 L946.6,755.3 L921.5,773.2 L903.5,787.6 L885.6,787.6 L867.6,784.0 L849.7,776.8 L831.8,769.6 L821.0,762.5Z" fill="#6cc46c"/><path d="M1205.8,751.6 L1223.0,743.0 L1227.3,723.7 L1231.6,721.5 L1238.1,743.0 L1244.5,764.5 L1246.7,775.3 L1244.5,790.3 L1240.2,790.3 L1235.9,773.1 L1223.0,771.0 L1214.4,781.7 L1208.0,779.6 L1203.7,764.5Z" fill="#6cc46c"/><path d="M1038.9,735.1 L1049.7,733.3 L1056.9,740.4 L1060.4,747.6 L1053.3,751.2 L1044.3,747.6 L1039.8,742.2Z" fill="#90ee90"/><path d="M536.5,628.2 L562.5,634.7 L588.6,647.7 L601.6,673.7 L582.0,680.2 L562.5,660.7 L539.8,647.7Z" fill="#0a6a0a"/><path d="M828.2,755.3 L860.5,758.9 L885.6,755.3 L910.7,748.1 L932.2,740.9 L939.4,755.3 L914.3,773.2 L896.3,784.0 L878.4,780.4 L853.3,773.2 L835.3,769.6Z" fill="#0a6a0a"/><path d="M1208.0,758.1 L1223.0,755.9 L1240.2,755.9 L1242.4,764.5 L1227.3,768.8 L1218.7,773.1 L1210.1,773.1Z" fill="#0a6a0a"/><path d="M1235.9,848.4 L1246.7,841.9 L1255.3,833.3 L1259.6,829.0 L1260.6,850.5 L1255.3,859.1 L1244.5,863.4 L1238.1,859.1Z" fill="#ff00ff"/><path d="M1248.8,839.8 L1257.4,833.3 L1259.6,846.2 L1253.1,850.5Z" fill="#a000a0"/></g><path d="M409.0,629.0 L415.0,627.5 L421.0,628.5 L418.0,631.0 L411.0,631.0Z" fill="#d8d8d8"/><path d="M449.0,657.0 L451.0,655.0 L454.0,660.0 L453.0,663.0 L450.0,661.0Z" fill="#cc3510"/><path d="M430.0,648.0 L433.0,647.0 L434.0,650.0 L431.0,651.0Z" fill="#cc3510"/><path d="M1069.0,262.0 L1074.0,258.0 L1082.0,256.0 L1085.0,258.0 L1080.0,263.0 L1072.0,266.0Z" fill="#b3b3b3"/><path d="M1181.0,312.0 L1188.0,311.0 L1191.0,314.0 L1188.0,317.5 L1182.0,316.0Z" fill="#b3b3b3"/><path d="M1199.0,876.0 L1205.0,874.5 L1212.0,875.0 L1209.0,877.5 L1201.0,878.0Z" fill="#e5e5e5"/><path d="M1214.0,874.0 L1224.0,872.5 L1232.0,871.0 L1236.0,872.5 L1228.0,875.0 L1217.0,876.0Z" fill="#e5e5e5"/><path d="M1242.0,872.0 L1247.0,866.0 L1251.0,864.0 L1250.0,868.0 L1245.0,874.0Z" fill="#ff00ff"/><path d="M335.9,307.6 L351.6,309.8 L359.5,315.4 L362.8,324.4 L371.8,326.7 L396.5,323.3 L414.4,319.9 L439.1,314.3 L482.0,313.8M481.8,235.2 L481.8,313.8M482.0,313.8 L485.8,320.0 L492.0,325.0 L491.0,333.0 L485.8,340.0 L477.2,354.1 L482.7,361.2 L481.9,420.1M329.6,420.1 L607.9,420.1M419.5,420.1 L419.5,499.3 L531.0,598.8M531.0,598.8 L530.2,580.0 L532.0,576.0 L544.7,573.1 L544.7,420.1M531.0,598.8 L535.7,609.8 L540.4,616.0 L542.8,624.0 L537.3,628.6 L532.6,634.9 L529.4,645.9 L530.2,658.5 L528.9,671.2M544.7,552.1 L797.3,552.1M650.0,446.5 L650.0,701.9M607.9,340.9 L607.9,446.5M607.9,446.5 L797.3,446.5M502.6,235.2 L502.6,258.0 L504.1,263.7 L521.6,281.2 L536.2,295.8 L539.0,307.5 L536.2,319.1 L542.0,325.0 L550.7,325.0 L556.6,336.6 L562.4,345.4 L568.2,355.6 L579.9,354.1 L591.5,352.7 L600.3,348.3 L607.9,354.0M607.9,340.9 L755.2,340.9M755.2,235.2 L755.2,446.5M755.2,316.0 L912.9,316.0M755.2,393.7 L872.1,393.7 L884.4,399.2 L897.3,397.9 L910.1,401.7 L915.3,405.6M797.3,446.5 L797.3,552.1M797.3,472.9 L938.7,472.9M899.8,235.2 L902.4,250.9 L908.9,276.7 L910.1,302.5 L912.7,312.8 L912.9,316.0 L907.6,323.1 L915.3,330.9 L915.3,379.8 L911.4,387.6 L915.3,400.5 L915.3,405.6M915.3,405.6 L920.5,421.1 L925.6,439.1 L928.4,445.5 L931.0,455.8 L938.7,468.7 L947.7,477.7 L945.1,484.2 L952.9,494.5 L953.7,552.1 L953.7,565.3 L957.7,594.4 L956.6,640.8M915.3,379.8 L1026.2,379.8M931.0,455.8 L1018.6,455.8 L1021.2,461.0M1003.0,295.5 L1003.0,312.8 L992.6,320.5 L991.3,328.3 L991.3,343.7 L1008.1,354.1 L1021.0,367.0 L1026.2,379.8 L1026.2,395.3 L1036.5,405.6 L1046.8,415.9 L1044.2,428.8 L1039.3,432.0 L1029.0,440.3 L1026.4,453.2 L1021.2,461.0 L1018.6,471.3 L1026.4,484.2 L1036.7,497.1 L1044.4,502.2 L1047.0,507.4 L1041.9,515.1 L1049.6,525.4 L1059.9,533.2 L1065.1,546.1 L1070.2,551.2 L1067.7,559.0 L1059.9,566.7 L1054.8,579.6 L1052.2,589.9 L1047.0,600.2 L1041.9,610.6 L1034.1,623.4 L1029.0,636.3 L1026.4,649.2 L1027.3,657.6 L1026.4,665.1 L1028.2,674.0 L1031.7,674.1 L1028.2,683.0 L1021.0,692.0 L1015.6,702.8 L1017.4,709.1M1017.4,709.1 L1057.8,709.1 L1053.3,711.7 L1060.4,726.1M775.7,565.3 L840.5,565.3 L840.5,615.7M776.5,552.1 L776.5,565.3M775.7,565.3 L775.7,684.3M700.6,684.3 L775.7,684.3M840.5,615.7 L855.0,621.8 L868.1,625.0 L887.6,633.2 L900.7,637.4 L915.5,636.3 L933.5,632.5 L943.8,633.8 L956.6,640.8 L965.5,641.5M965.5,641.5 L965.5,684.2 L970.0,695.0 L975.4,706.3 L972.2,720.0 L972.2,735.6 L969.0,744.0M965.5,657.6 L1027.3,657.6M953.7,565.3 L1047.0,565.3 L1049.6,570.6 L1043.2,578.3 L1056.0,578.3M1044.4,406.7 L1097.3,406.7M1032.1,297.5 L1049.3,304.1 L1074.0,311.5 L1089.4,317.3 L1095.7,325.1 L1098.8,332.9 L1098.8,342.4M1103.5,425.8 L1187.4,425.8 L1189.4,425.8M1103.8,425.8 L1103.8,494.5 L1101.2,502.2 L1097.0,514.0 L1093.5,525.4M1070.2,551.2 L1080.6,546.1 L1085.7,538.3 L1093.5,530.6 L1100.0,527.6 L1113.5,529.9 L1126.9,523.2 L1135.9,520.9 L1144.9,514.2 L1153.8,507.5 L1160.6,500.7 L1162.8,496.2 L1174.0,500.7 L1183.0,506.3 L1196.4,507.5 L1205.4,514.2 L1212.1,507.5 L1221.1,498.5 L1230.1,491.8 L1239.0,485.0 L1245.8,471.6 L1249.1,455.9 L1252.2,455.9M1160.4,425.8 L1160.4,500.0M1250.6,421.0 L1250.6,455.9M1252.2,455.9 L1252.2,479.9M1252.2,479.9 L1354.9,479.9M1266.3,414.8 L1266.3,420.1 L1360.9,420.1 L1365.0,428.3 L1370.0,437.3M1370.0,437.3 L1365.0,446.4 L1365.0,454.5 L1370.0,462.6 L1373.0,468.6 L1365.0,474.7 L1356.9,479.7M1370.0,437.3 L1387.1,446.4M1354.9,479.9 L1353.8,486.8 L1352.8,513.0 L1367.0,513.0M1205.4,514.2 L1207.6,525.4 L1216.6,536.6 L1221.1,538.9 L1207.6,547.8 L1194.2,556.8 L1185.2,561.0M1056.0,562.8 L1093.5,562.8 L1093.5,560.8 L1185.2,561.0 L1347.0,562.8M1221.1,538.9 L1232.3,545.6 L1243.5,541.1 L1254.7,534.4 L1259.2,525.4 L1266.0,514.2 L1274.9,507.5 L1283.9,496.2 L1292.9,487.3 L1301.8,482.8M1272.7,479.9 L1272.7,494.0 L1274.9,483.5 L1284.2,484.8 L1290.6,485.0 L1301.8,484.0 L1308.4,488.8 L1316.5,496.9 L1324.6,504.9 L1320.5,511.0M1326.6,486.0 L1326.6,490.8 L1322.6,500.9 L1320.5,509.0 L1318.5,515.0 L1324.6,519.1 L1328.6,523.1 L1326.6,531.2 L1328.6,541.3 L1326.6,545.3 L1332.7,551.4 L1340.7,555.4 L1346.8,555.4M1334.7,486.0 L1334.7,490.8 L1336.7,500.9 L1338.7,511.0 L1342.7,519.1 L1344.8,527.1 L1348.8,537.2 L1348.8,545.3 L1346.8,549.4M1326.6,531.2 L1318.5,529.2M1328.6,541.3 L1322.6,539.3M1332.7,551.4 L1324.6,547.3M1225.6,562.8 L1225.6,565.8 L1221.1,572.5 L1207.6,581.5 L1189.7,588.2 L1174.0,594.9 L1169.5,601.7 L1169.5,605.0M1049.6,605.0 L1169.5,605.0 L1184.0,604.0M1169.5,605.0 L1200.0,604.6 L1212.1,600.5 L1240.4,600.5 L1246.4,608.6 L1268.6,609.6 L1290.8,632.8M1200.0,604.6 L1212.1,620.0 L1212.1,632.8 L1224.2,649.0 L1234.3,665.1 L1240.0,681.0M1090.9,605.0 L1087.0,660.0 L1083.8,693.8 L1085.6,724.3M1144.9,605.0 L1147.1,620.0 L1153.7,657.9 L1159.1,675.9 L1155.5,679.5 L1157.3,693.8 L1153.7,710.0 L1157.3,715.3M1099.9,729.7 L1101.7,710.0 L1153.7,710.0M1157.3,715.3 L1180.0,719.4 L1216.6,721.5 L1216.6,726.9 L1219.8,715.0 L1231.6,716.1M1400.6,340.7 L1402.7,360.9 L1399.6,373.0 L1402.7,399.3 L1398.6,421.5 L1397.2,444.4M1441.0,340.3 L1439.0,348.8 L1430.9,358.9 L1424.9,373.0 L1418.8,399.3M1451.1,332.7 L1451.1,360.0 L1453.1,385.1 L1456.1,393.2M1402.7,399.3 L1445.0,399.3 L1453.0,401.0M1399.6,418.1 L1437.0,418.1 L1437.0,436.0" fill="none" stroke="#000" stroke-width="3.4" stroke-linejoin="round" stroke-linecap="round"/><path d="M319.7,251.4 L326.0,252.5 L336.0,254.5 L346.0,257.0 L353.0,259.0 L356.0,258.0 L358.0,250.0 L357.0,243.0 L361.0,237.0 L361.0,235.2 L942.4,235.2 L942.4,226.4 L950.1,226.4 L952.7,240.6 L972.0,245.8 L984.9,244.5 L997.8,248.4 L1010.7,256.1 L1023.6,257.4 L1033.9,256.1 L1049.4,258.7 L1062.3,261.2 L1056.0,263.5 L1049.4,266.4 L1028.7,276.7 L1013.3,287.0 L1003.0,295.5 L1008.0,295.0 L1014.8,294.2 L1032.1,296.7 L1034.5,290.5 L1044.4,296.7 L1056.7,291.8 L1071.5,289.3 L1083.8,286.8 L1083.8,279.4 L1093.7,275.7 L1099.9,277.0 L1091.2,281.9 L1086.3,291.8 L1098.6,291.8 L1108.5,299.2 L1123.3,300.4 L1138.1,295.5 L1157.8,294.2 L1160.3,301.6 L1175.0,301.6 L1177.5,311.5 L1181.0,315.0 L1167.8,312.5 L1155.3,311.8 L1145.9,312.5 L1134.9,315.7 L1125.5,318.8 L1117.6,322.0 L1111.4,326.7 L1105.1,332.9 L1098.8,342.4 L1092.5,351.8 L1094.9,353.3 L1100.4,347.1 L1106.7,339.2 L1112.9,333.7 L1116.1,334.5 L1111.4,342.4 L1105.1,351.8 L1102.0,361.2 L1098.8,372.2 L1097.3,384.7 L1097.3,397.3 L1098.8,409.8 L1102.0,422.4 L1106.7,428.6 L1116.1,427.1 L1123.9,420.8 L1130.2,409.8 L1132.5,400.4 L1130.2,387.8 L1125.5,375.3 L1125.5,362.7 L1130.2,350.2 L1136.5,342.4 L1142.7,337.6 L1149.0,334.5 L1153.7,329.8 L1156.9,323.5 L1158.4,318.8 L1161.6,320.4 L1174.1,325.1 L1186.7,331.4 L1191.4,337.6 L1192.9,343.9 L1189.8,354.9 L1183.5,362.7 L1178.8,370.6 L1182.0,376.9 L1189.8,370.6 L1198.8,365.3 L1205.1,367.7 L1208.3,377.1 L1210.6,392.8 L1208.3,402.2 L1202.0,405.4 L1198.8,408.5 L1195.7,417.9 L1189.4,425.8 L1200.4,430.5 L1203.5,433.6 L1211.4,434.4 L1224.0,432.0 L1233.4,425.8 L1249.1,420.3 L1261.6,415.6 L1274.2,408.5 L1285.2,400.6 L1282.0,394.4 L1282.0,386.5 L1289.9,384.2 L1308.7,384.2 L1313.4,387.3 L1326.0,385.7 L1337.0,380.2 L1341.7,375.5 L1340.1,366.1 L1349.5,358.3 L1355.8,348.8 L1368.4,341.0 L1380.0,340.8 L1441.0,340.3 L1443.0,334.7 L1451.1,332.7 L1459.2,326.6 L1463.2,320.5 L1467.2,308.4 L1471.3,296.3 L1481.4,284.2 L1489.4,276.1 L1493.5,280.2 L1507.6,278.2 L1519.7,286.2 L1520.7,320.5 L1527.8,326.6 L1529.8,336.7 L1535.9,342.7 L1529.8,348.8 L1519.7,354.9 L1507.6,356.9 L1497.5,354.9 L1487.4,364.9 L1475.3,373.0 L1463.2,381.1 L1457.1,389.2 L1455.1,399.3 L1458.9,403.5 L1455.3,407.9 L1450.0,410.6 L1453.5,413.3 L1458.0,416.0 L1460.7,421.4 L1460.7,424.5 L1467.0,426.0 L1472.0,425.5 L1474.5,421.0 L1472.5,416.5 L1469.5,416.0 L1471.0,419.0 L1472.0,423.0 L1467.0,424.4 L1461.5,427.5 L1456.0,429.5 L1450.9,431.0 L1446.0,433.0 L1441.0,435.0 L1437.6,436.3 L1433.6,437.3 L1413.4,440.4 L1397.2,444.4 L1391.2,448.4 L1397.2,446.4 L1411.4,445.4 L1427.5,442.4 L1433.6,445.4 L1421.5,450.5 L1405.3,456.5 L1391.2,454.5 L1385.1,456.5 L1389.2,460.5 L1389.2,468.6 L1385.1,480.7 L1381.1,486.8 L1375.0,492.8 L1369.0,496.9 L1365.0,494.0 L1365.0,498.9 L1367.0,502.9 L1367.0,513.0 L1360.9,527.1 L1354.9,537.2 L1348.8,545.3 L1346.8,557.4 L1347.3,556.0 L1350.3,562.4 L1353.9,574.1 L1357.5,583.1 L1355.7,588.5 L1350.3,592.1 L1343.1,595.7 L1337.7,599.2 L1334.1,604.6 L1328.7,611.8 L1322.4,616.3 L1313.0,620.0 L1304.9,632.8 L1294.8,633.8 L1286.8,638.9 L1278.7,649.0 L1270.6,657.0 L1260.5,665.1 L1248.4,673.2 L1240.4,681.2 L1235.3,691.3 L1232.3,701.4 L1230.3,713.5 L1231.6,719.4 L1235.9,743.0 L1244.5,768.8 L1255.3,796.8 L1260.6,820.4 L1259.6,837.6 L1257.4,850.5 L1251.0,861.3 L1240.2,863.4 L1238.1,859.1 L1233.8,848.4 L1225.2,839.8 L1220.9,829.0 L1218.7,820.4 L1212.3,816.1 L1205.8,801.1 L1203.7,786.0 L1205.8,772.0 L1204.0,762.0 L1195.0,753.0 L1186.0,742.2 L1177.0,733.3 L1169.9,735.1 L1157.3,742.2 L1148.3,744.0 L1146.5,736.9 L1139.4,727.9 L1128.6,722.5 L1112.5,724.3 L1099.9,729.7 L1096.0,727.0 L1093.6,718.0 L1092.7,729.7 L1085.6,724.3 L1074.8,724.0 L1067.6,726.1 L1060.4,726.1 L1062.2,731.5 L1069.4,735.1 L1062.2,745.8 L1065.8,751.2 L1072.1,758.4 L1067.6,763.8 L1064.0,758.4 L1053.3,753.0 L1046.1,760.2 L1035.3,762.0 L1028.2,754.8 L1019.2,745.8 L1008.4,742.2 L1001.3,748.5 L986.9,743.1 L977.9,742.2 L969.0,744.0 L949.4,748.6 L920.2,768.1 L900.7,784.4 L890.9,807.2 L894.1,826.7 L900.7,841.3 L884.4,839.7 L861.6,830.0 L851.9,810.4 L840.5,787.6 L825.9,758.4 L812.8,745.4 L793.3,740.5 L782.0,747.0 L773.8,763.3 L757.6,751.9 L744.6,738.9 L736.4,719.3 L715.3,703.1 L700.6,684.3 L703.1,690.0 L667.6,690.0 L667.6,701.9 L607.4,701.9 L528.9,671.2 L530.6,665.2 L480.1,670.2 L478.4,661.6 L473.0,650.6 L465.1,642.0 L455.7,636.5 L451.0,631.0 L440.0,627.9 L425.0,619.4 L406.8,615.4 L402.7,601.3 L400.7,593.2 L390.6,581.0 L378.5,567.0 L379.5,554.9 L370.5,548.8 L368.4,536.7 L357.3,524.6 L350.3,512.5 L340.2,496.3 L335.1,476.1 L332.8,470.3 L326.5,459.3 L332.0,442.0 L334.3,431.0 L329.6,419.5 L325.7,406.0 L323.3,397.3 L326.5,387.0 L330.4,371.4 L334.3,340.0 L335.0,320.0 L335.9,307.6 L334.8,302.0 L331.5,286.3 L327.0,268.4Z" fill="none" stroke="#000" stroke-width="3.4" stroke-linejoin="round"/><path d="M1325.0,544.0 L1333.0,549.0 L1338.0,553.0 L1346.0,554.0M1345.0,541.0 L1348.0,547.0M1330.0,569.0 L1331.0,579.0 L1338.0,580.0 L1344.0,578.0 L1348.0,580.0 L1350.0,585.0 L1346.0,588.0 L1343.0,584.0M1325.0,592.0 L1332.0,590.0 L1338.0,592.0 L1343.0,596.0M1323.0,602.0 L1328.0,600.0 L1333.0,604.0 L1336.0,608.0M1316.0,612.0 L1322.0,611.0 L1326.0,614.0" fill="none" stroke="#000" stroke-width="5" stroke-linejoin="round" stroke-linecap="round"/><ellipse cx="1049.5" cy="730.5" rx="7" ry="5" fill="#fff" stroke="#000" stroke-width="3.4"/><path d="M1202.0,789.0 L1207.0,787.5 L1212.0,790.0 L1212.5,795.0 L1208.0,797.5 L1203.0,796.0 L1201.0,792.0Z" fill="#000" stroke="#000" stroke-width="2"/><path d="M1214.0,817.0 L1218.0,816.0 L1220.5,820.0 L1218.0,823.0 L1215.0,822.0Z" fill="#000" stroke="#000" stroke-width="2"/><path d="M1455.0,435.0 L1459.0,434.0 L1464.0,435.5 L1461.0,438.0 L1456.0,437.5Z" fill="#000" stroke="#000" stroke-width="2"/><path d="M1468.0,437.0 L1472.0,436.0 L1475.0,438.0 L1471.0,440.5 L1468.0,439.5Z" fill="#000" stroke="#000" stroke-width="2"/><path d="M353.0,244.0 L358.0,240.0 L365.0,241.0 L369.0,246.0 L368.0,252.0 L372.0,257.0 L374.0,266.0 L372.0,276.0 L370.0,284.0 L364.0,288.0 L358.0,286.0 L356.0,278.0 L359.0,270.0 L357.0,262.0 L359.0,256.0 L355.0,251.0Z" fill="#000" stroke="#000" stroke-width="2"/><path d="M368.0,522.0 L374.0,520.0 L378.0,526.0 L375.0,532.0 L378.0,540.0 L372.0,541.0 L369.0,534.0Z" fill="#000" stroke="#000" stroke-width="2"/></svg>
<div class="lh">Adult relative<br>pop. size<br>(peak)</div>
<div class="sw" style="top:483.00px;background:#4d4d4d"></div><div class="lt" style="top:482.50px">excl.-severe</div><div class="sw" style="top:508.53px;background:#b3b3b3"></div><div class="lt" style="top:508.03px">excl.-moderate</div><div class="sw" style="top:534.06px;background:#e5e5e5"></div><div class="lt" style="top:533.56px">other stages</div><div class="sw" style="top:559.59px;background:#0026dd"></div><div class="lt" style="top:559.09px">0 gens.</div><div class="sw" style="top:585.12px;background:#aa2314"></div><div class="lt" style="top:584.62px">1 gens.</div><div class="sw" style="top:610.65px;background:#ddbe00"></div><div class="lt" style="top:610.15px">2 gens.</div><div class="sw" style="top:636.18px;background:#228828"></div><div class="lt" style="top:635.68px">3 gens.</div><div class="sw" style="top:661.71px;background:#aa00aa"></div><div class="lt" style="top:661.21px">4 gens.</div><div class="sw" style="top:687.24px;background:#dd7711"></div><div class="lt" style="top:686.74px">5 gens.</div>
</body></html>
